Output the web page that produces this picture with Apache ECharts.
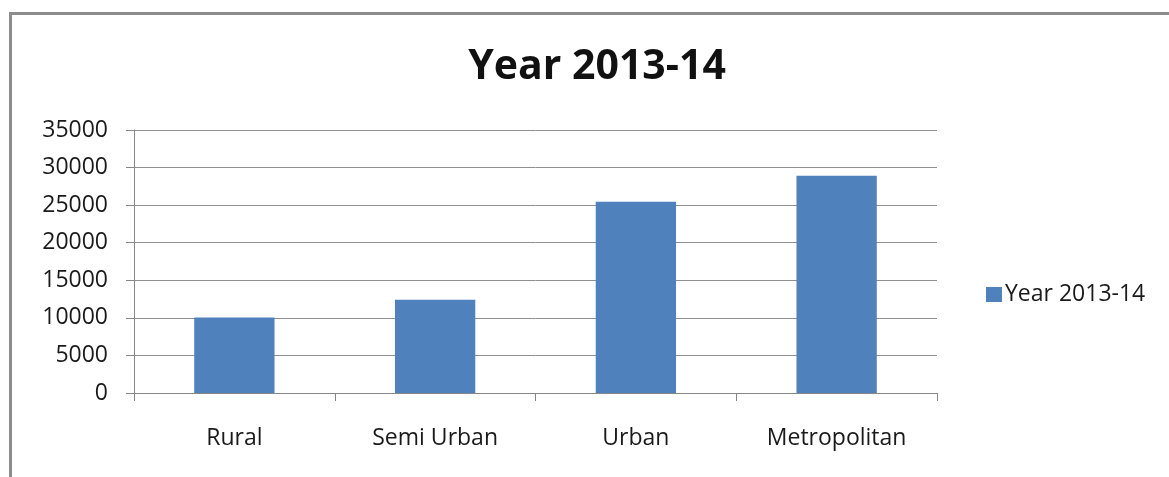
<!DOCTYPE html>
<html>
<head>
<meta charset="utf-8">
<script src="https://cdn.jsdelivr.net/npm/echarts@6/dist/echarts.min.js"></script>
<style>html,body{margin:0;padding:0;background:#fff;}#c{width:1169px;height:477px;}</style>
</head>
<body>
<div id="c"></div>
<script>
const categories = ["Rural", "Semi Urban", "Urban", "Metropolitan"];
const seriesName = "Year 2013-14";
const values = [10050, 12400, 25450, 28900];
const yTicks = [0, 5000, 10000, 15000, 20000, 25000, 30000, 35000];

const FONT = "Open Sans";
const chart = echarts.init(document.getElementById('c'), null, {renderer: 'canvas'});
chart.setOption({
  backgroundColor: '#ffffff',
  animation: false,
  graphic: [{
    type: 'rect',
    shape: {x: 10.5, y: 13.5, width: 1300, height: 600},
    style: {fill: 'none', stroke: '#8c8c8c', lineWidth: 3},
    silent: true
  }],
  title: {
    text: "Year 2013-14",
    left: 592,
    textAlign: 'center',
    top: 42,
    textStyle: {fontFamily: FONT, fontSize: 41, fontWeight: 'bold', color: '#111'}
  },
  legend: {
    data: [seriesName],
    left: 981,
    top: 278,
    orient: 'vertical',
    itemWidth: 16,
    itemHeight: 15,
    itemGap: 5,
    icon: 'rect',
    textStyle: {fontFamily: FONT, fontSize: 23, color: '#1a1a1a', padding: [0, 0, 0, -2]}
  },
  grid: {left: 134, right: 232, top: 130, bottom: 84, containLabel: false},
  xAxis: {
    type: 'category',
    data: categories,
    axisLine: {lineStyle: {color: '#868686', width: 1}},
    axisTick: {show: true, length: 8, alignWithLabel: false, lineStyle: {color: '#868686'}},
    axisLabel: {fontFamily: FONT, fontSize: 23, color: '#1a1a1a', margin: 34},
    splitLine: {show: false}
  },
  yAxis: {
    type: 'value',
    min: 0,
    max: 35000,
    interval: 5000,
    axisLine: {show: true, lineStyle: {color: '#868686', width: 1}},
    axisTick: {show: true, length: 8, lineStyle: {color: '#868686'}},
    axisLabel: {
      fontFamily: FONT, fontSize: 23, color: '#1a1a1a', margin: 26,
      formatter: function (v) { return yTicks.indexOf(v) >= 0 ? String(v) : ''; }
    },
    splitLine: {show: true, lineStyle: {color: '#8f8f8f', width: 1}}
  },
  series: [{
    name: seriesName,
    type: 'bar',
    data: values,
    barWidth: '40%',
    itemStyle: {color: '#4f81bd'}
  }]
});
</script>
</body>
</html>
